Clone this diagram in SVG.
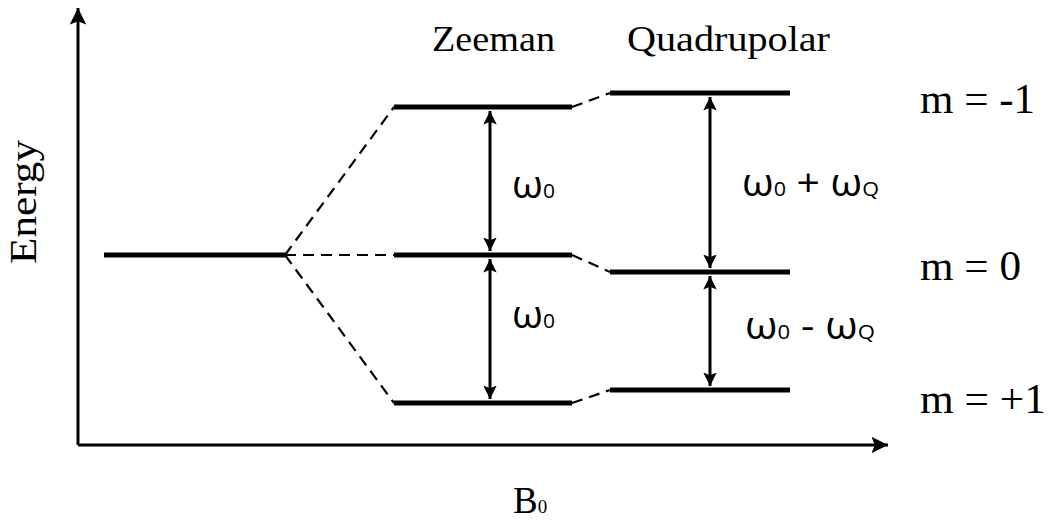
<svg xmlns="http://www.w3.org/2000/svg" width="1049" height="525" viewBox="0 0 1049 525">
<defs>
<marker id="ah" viewBox="0 0 10 10" refX="10" refY="5" markerWidth="4.5" markerHeight="4.5" orient="auto-start-reverse" markerUnits="strokeWidth">
<path d="M0,0 L10,5 L0,10 L2,5 Z" fill="#000"/>
</marker>
<marker id="axh" viewBox="0 0 10 10" refX="10" refY="5" markerWidth="5.5" markerHeight="5.5" orient="auto" markerUnits="strokeWidth">
<path d="M0,0 L10,5 L0,10 L2,5 Z" fill="#000"/>
</marker>
</defs>
<style>
.lvl{stroke:#000;stroke-width:5;fill:none}
.dash{stroke:#000;stroke-width:2.2;fill:none;stroke-dasharray:11 7}
.axis{stroke:#000;stroke-width:3;fill:none}
.arr{stroke:#000;stroke-width:3;fill:none}
.serif{font-family:"Liberation Serif","DejaVu Serif",serif;fill:#000}
.sans{font-family:"Open Sans","Noto Sans",sans-serif;fill:#000}
</style>
<rect width="1049" height="525" fill="#fff"/>
<g id="axes">
<line class="axis" x1="78" y1="445" x2="78" y2="8" marker-end="url(#axh)"/>
<line class="axis" x1="78" y1="445" x2="888" y2="445" marker-end="url(#axh)"/>
<text class="serif" font-size="38" transform="translate(36,264) rotate(-90)" textLength="124" lengthAdjust="spacingAndGlyphs">Energy</text>
<text class="serif" x="513" y="513" font-size="37">B<tspan font-size="19">0</tspan></text>
</g>
<g id="unperturbed"><line class="lvl" x1="104" y1="255" x2="285" y2="255"/></g>
<g id="zeeman">
<text class="serif" x="432" y="51" font-size="36" textLength="123" lengthAdjust="spacingAndGlyphs">Zeeman</text>
<line class="lvl" x1="394" y1="107" x2="572" y2="107"/>
<line class="lvl" x1="394" y1="255" x2="572" y2="255"/>
<line class="lvl" x1="394" y1="403" x2="572" y2="403"/>
</g>
<g id="quadrupolar">
<text class="serif" x="627" y="51" font-size="36" textLength="203" lengthAdjust="spacingAndGlyphs">Quadrupolar</text>
<line class="lvl" x1="610" y1="93" x2="790" y2="93"/>
<line class="lvl" x1="610" y1="272" x2="790" y2="272"/>
<line class="lvl" x1="610" y1="390" x2="790" y2="390"/>
</g>
<g id="mlabels">
<text class="serif" x="920" y="113" font-size="42" textLength="115" lengthAdjust="spacingAndGlyphs">m = -1</text>
<text class="serif" x="920" y="280" font-size="42" textLength="101" lengthAdjust="spacingAndGlyphs">m = 0</text>
<text class="serif" x="920" y="413" font-size="42" textLength="126" lengthAdjust="spacingAndGlyphs">m = +1</text>
</g>
<g id="connectors">
<line class="dash" x1="285" y1="255" x2="394" y2="107"/>
<line class="dash" x1="285" y1="255" x2="394" y2="255"/>
<line class="dash" x1="285" y1="255" x2="394" y2="403"/>
<line class="dash" x1="572" y1="107" x2="610" y2="93"/>
<line class="dash" x1="572" y1="255" x2="610" y2="272"/>
<line class="dash" x1="572" y1="403" x2="610" y2="390"/>
<line class="arr" x1="490" y1="111" x2="490" y2="251" marker-start="url(#ah)" marker-end="url(#ah)"/>
<line class="arr" x1="490" y1="259" x2="490" y2="399" marker-start="url(#ah)" marker-end="url(#ah)"/>
<line class="arr" x1="710" y1="97" x2="710" y2="268" marker-start="url(#ah)" marker-end="url(#ah)"/>
<line class="arr" x1="710" y1="276" x2="710" y2="386" marker-start="url(#ah)" marker-end="url(#ah)"/>
</g>
<g id="freqlabels">
<text class="sans" x="512" y="198" font-size="38" textLength="43" lengthAdjust="spacingAndGlyphs">ω<tspan font-size="20">0</tspan></text>
<text class="sans" x="512" y="328" font-size="38" textLength="43" lengthAdjust="spacingAndGlyphs">ω<tspan font-size="20">0</tspan></text>
<text class="sans" x="742" y="196" font-size="38" textLength="137" lengthAdjust="spacingAndGlyphs">ω<tspan font-size="20">0</tspan> + ω<tspan font-size="20">Q</tspan></text>
<text class="sans" x="745" y="339" font-size="38" textLength="130" lengthAdjust="spacingAndGlyphs">ω<tspan font-size="20">0</tspan> - ω<tspan font-size="20">Q</tspan></text>
</g>
</svg>
